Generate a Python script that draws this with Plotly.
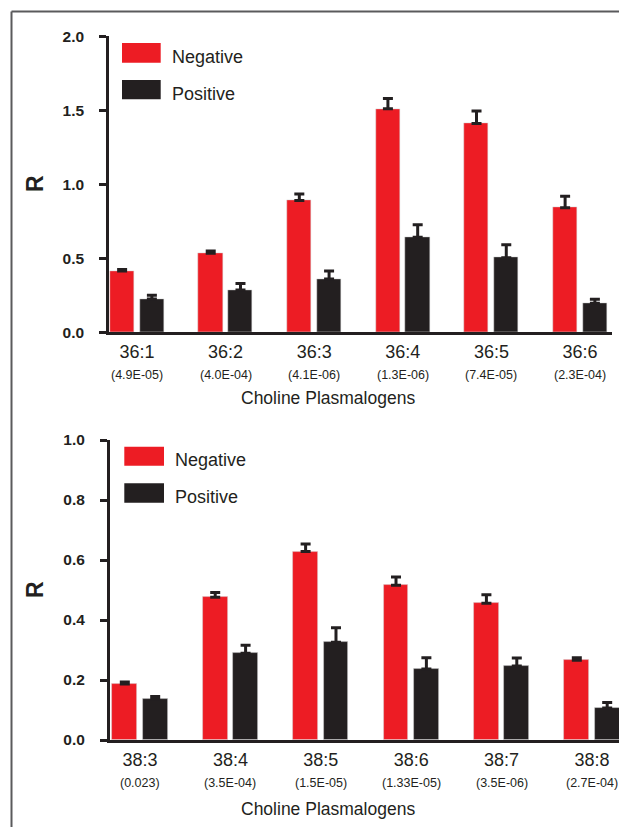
import plotly.graph_objects as go

# page body has an 8px margin; build the figure so the photographed picture lines up
PAGE_OFF = 8
W, H = 627 - 2 * PAGE_OFF, 835 - 2 * PAGE_OFF

# ---- data ----
top_categories = ["36:1", "36:2", "36:3", "36:4", "36:5", "36:6"]
top_pvalues = ["(4.9E-05)", "(4.0E-04)", "(4.1E-06)", "(1.3E-06)", "(7.4E-05)", "(2.3E-04)"]
top_negative = [0.415, 0.534, 0.89, 1.51, 1.41, 0.842]
top_negative_err = [0.01, 0.015, 0.045, 0.07, 0.085, 0.077]
top_positive = [0.225, 0.286, 0.36, 0.642, 0.504, 0.196]
top_positive_err = [0.025, 0.043, 0.055, 0.085, 0.088, 0.027]

bot_categories = ["38:3", "38:4", "38:5", "38:6", "38:7", "38:8"]
bot_pvalues = ["(0.023)", "(3.5E-04)", "(1.5E-05)", "(1.33E-05)", "(3.5E-06)", "(2.7E-04)"]
bot_negative = [0.187, 0.476, 0.628, 0.516, 0.456, 0.266]
bot_negative_err = [0.006, 0.016, 0.025, 0.027, 0.028, 0.008]
bot_positive = [0.137, 0.289, 0.326, 0.237, 0.247, 0.107]
bot_positive_err = [0.008, 0.027, 0.048, 0.037, 0.026, 0.018]

series_names = ["Negative", "Positive"]
x_title = "Choline Plasmalogens"
y_title = "R"

RED = "#ed1c24"
BLK = "#231f20"
FONT = "Liberation Sans, Arial, sans-serif"

def px_x(p):
    return min(1.0, (p - PAGE_OFF) / W)

def px_y(p):
    return max(0.0, 1 - (p - PAGE_OFF) / H)

fig = go.Figure()

BW = 0.274
OFF_NEG = -0.305
OFF_POS = 0.031

def add_bars(cats, neg, negerr, pos, poserr, xa, ya):
    idx = list(range(len(cats)))
    for vals, errs, col, off, name in [(neg, negerr, RED, OFF_NEG, series_names[0]),
                                       (pos, poserr, BLK, OFF_POS, series_names[1])]:
        fig.add_trace(go.Bar(
            x=idx, y=vals, width=BW, offset=off, name=name,
            marker=dict(color=col, line=dict(color="rgba(210,210,210,0.6)", width=0.8)),
            error_y=dict(type="data", symmetric=False, array=errs,
                         arrayminus=[0] * len(errs), color=BLK, thickness=3, width=5),
            xaxis=xa, yaxis=ya, showlegend=False,
        ))

add_bars(top_categories, top_negative, top_negative_err, top_positive, top_positive_err, "x", "y")
add_bars(bot_categories, bot_negative, bot_negative_err, bot_positive, bot_positive_err, "x2", "y2")

xcommon = dict(showgrid=False, zeroline=False, showline=True, linecolor=BLK, linewidth=3,
               ticks="", tickfont=dict(family=FONT, size=18, color=BLK),
               ticklabelstandoff=1, fixedrange=True, automargin=False)
ycommon = dict(showgrid=False, zeroline=False, showline=True, linecolor=BLK, linewidth=3,
               ticks="outside", ticklen=7, tickwidth=2.5, tickcolor=BLK,
               tickfont=dict(family=FONT, size=15.5, color=BLK, weight="bold"),
               tickformat=".1f", ticklabelstandoff=12, automargin=False, fixedrange=True)

# pixel layout of the two panels: (left, right, bottom, top) and category-0 centre / spacing
TOP_L, TOP_R, TOP_B, TOP_T, TOP_C0, TOP_SP = 109.2, 611.7, 332.3, 36.3, 137.0, 88.6
BOT_L, BOT_R, BOT_B, BOT_T, BOT_C0, BOT_SP = 110.0, 619.0, 740.0, 440.0, 140.0, 90.4

fig.update_layout(
    template="none",
    width=W, height=H,
    margin=dict(l=0, r=0, t=0, b=0, pad=0),
    paper_bgcolor="white", plot_bgcolor="white",
    bargap=0,
    xaxis=dict(domain=[px_x(TOP_L), px_x(TOP_R)],
               range=[(TOP_L - TOP_C0) / TOP_SP, (TOP_R - TOP_C0) / TOP_SP],
               tickvals=list(range(6)), ticktext=top_categories, anchor="y", **xcommon),
    yaxis=dict(domain=[px_y(TOP_B), px_y(TOP_T)], range=[0, 2.0],
               tickvals=[0, 0.5, 1.0, 1.5, 2.0], anchor="x", **ycommon),
    xaxis2=dict(domain=[px_x(BOT_L), px_x(BOT_R)],
                range=[(BOT_L - BOT_C0) / BOT_SP, (BOT_R - BOT_C0) / BOT_SP],
                tickvals=list(range(6)), ticktext=bot_categories, anchor="y2", **xcommon),
    yaxis2=dict(domain=[px_y(BOT_B), px_y(BOT_T)], range=[0, 1.0],
                tickvals=[0, 0.2, 0.4, 0.6, 0.8, 1.0], anchor="x2", **ycommon),
)

annotations = []
# p-values under categories
for i, p in enumerate(top_pvalues):
    annotations.append(dict(x=i, xref="x", y=px_y(375.5), yref="paper", text=p, showarrow=False,
                            font=dict(family=FONT, size=12.5, color=BLK),
                            xanchor="center", yanchor="middle"))
for i, p in enumerate(bot_pvalues):
    annotations.append(dict(x=i, xref="x2", y=px_y(783), yref="paper", text=p, showarrow=False,
                            font=dict(family=FONT, size=12.5, color=BLK),
                            xanchor="center", yanchor="middle"))
# x titles
annotations.append(dict(x=px_x(327.5), y=px_y(398), xref="paper", yref="paper", text=x_title,
                        showarrow=False, xanchor="center", yanchor="middle",
                        font=dict(family=FONT, size=17.5, color=BLK)))
annotations.append(dict(x=px_x(328), y=px_y(809), xref="paper", yref="paper", text=x_title,
                        showarrow=False, xanchor="center", yanchor="middle",
                        font=dict(family=FONT, size=17.5, color=BLK)))
# y titles
for yc in (184, 590):
    annotations.append(dict(x=px_x(35), y=px_y(yc), xref="paper", yref="paper", text=y_title,
                            textangle=-90, showarrow=False, xanchor="center", yanchor="middle",
                            font=dict(family=FONT, size=23, color=BLK, weight="bold")))

shapes = []
# custom legends
legend_specs = [
    # (box x0, x1, red y0, y1, blk y0, y1, text x, red text y, blk text y)
    (122, 160.7, 43, 62.7, 80, 99.3, 170, 57, 94),
    (124.3, 164, 446.7, 465.7, 483.3, 502.7, 173, 460, 497),
]
for bx0, bx1, ry0, ry1, ky0, ky1, tx, rty, kty in legend_specs:
    for (y0, y1, col, ty, name) in [(ry0, ry1, RED, rty, series_names[0]),
                                    (ky0, ky1, BLK, kty, series_names[1])]:
        shapes.append(dict(type="rect", xref="paper", yref="paper",
                           x0=px_x(bx0), x1=px_x(bx1), y0=px_y(y1), y1=px_y(y0),
                           fillcolor=col, line=dict(width=0)))
        annotations.append(dict(x=px_x(tx), y=px_y(ty), xref="paper", yref="paper", text=name,
                                showarrow=False, xanchor="left", yanchor="middle",
                                font=dict(family=FONT, size=18, color=BLK)))

# frame (top and left border)
shapes.append(dict(type="line", xref="paper", yref="paper", x0=px_x(11.5), x1=1.0,
                   y0=px_y(11.5), y1=px_y(11.5), line=dict(color="#5a5a5c", width=2)))
shapes.append(dict(type="line", xref="paper", yref="paper", x0=px_x(11.5), x1=px_x(11.5),
                   y0=px_y(11.5), y1=0.0, line=dict(color="#5a5a5c", width=2)))

fig.update_layout(annotations=annotations, shapes=shapes)

fig.write_html("out.html")
